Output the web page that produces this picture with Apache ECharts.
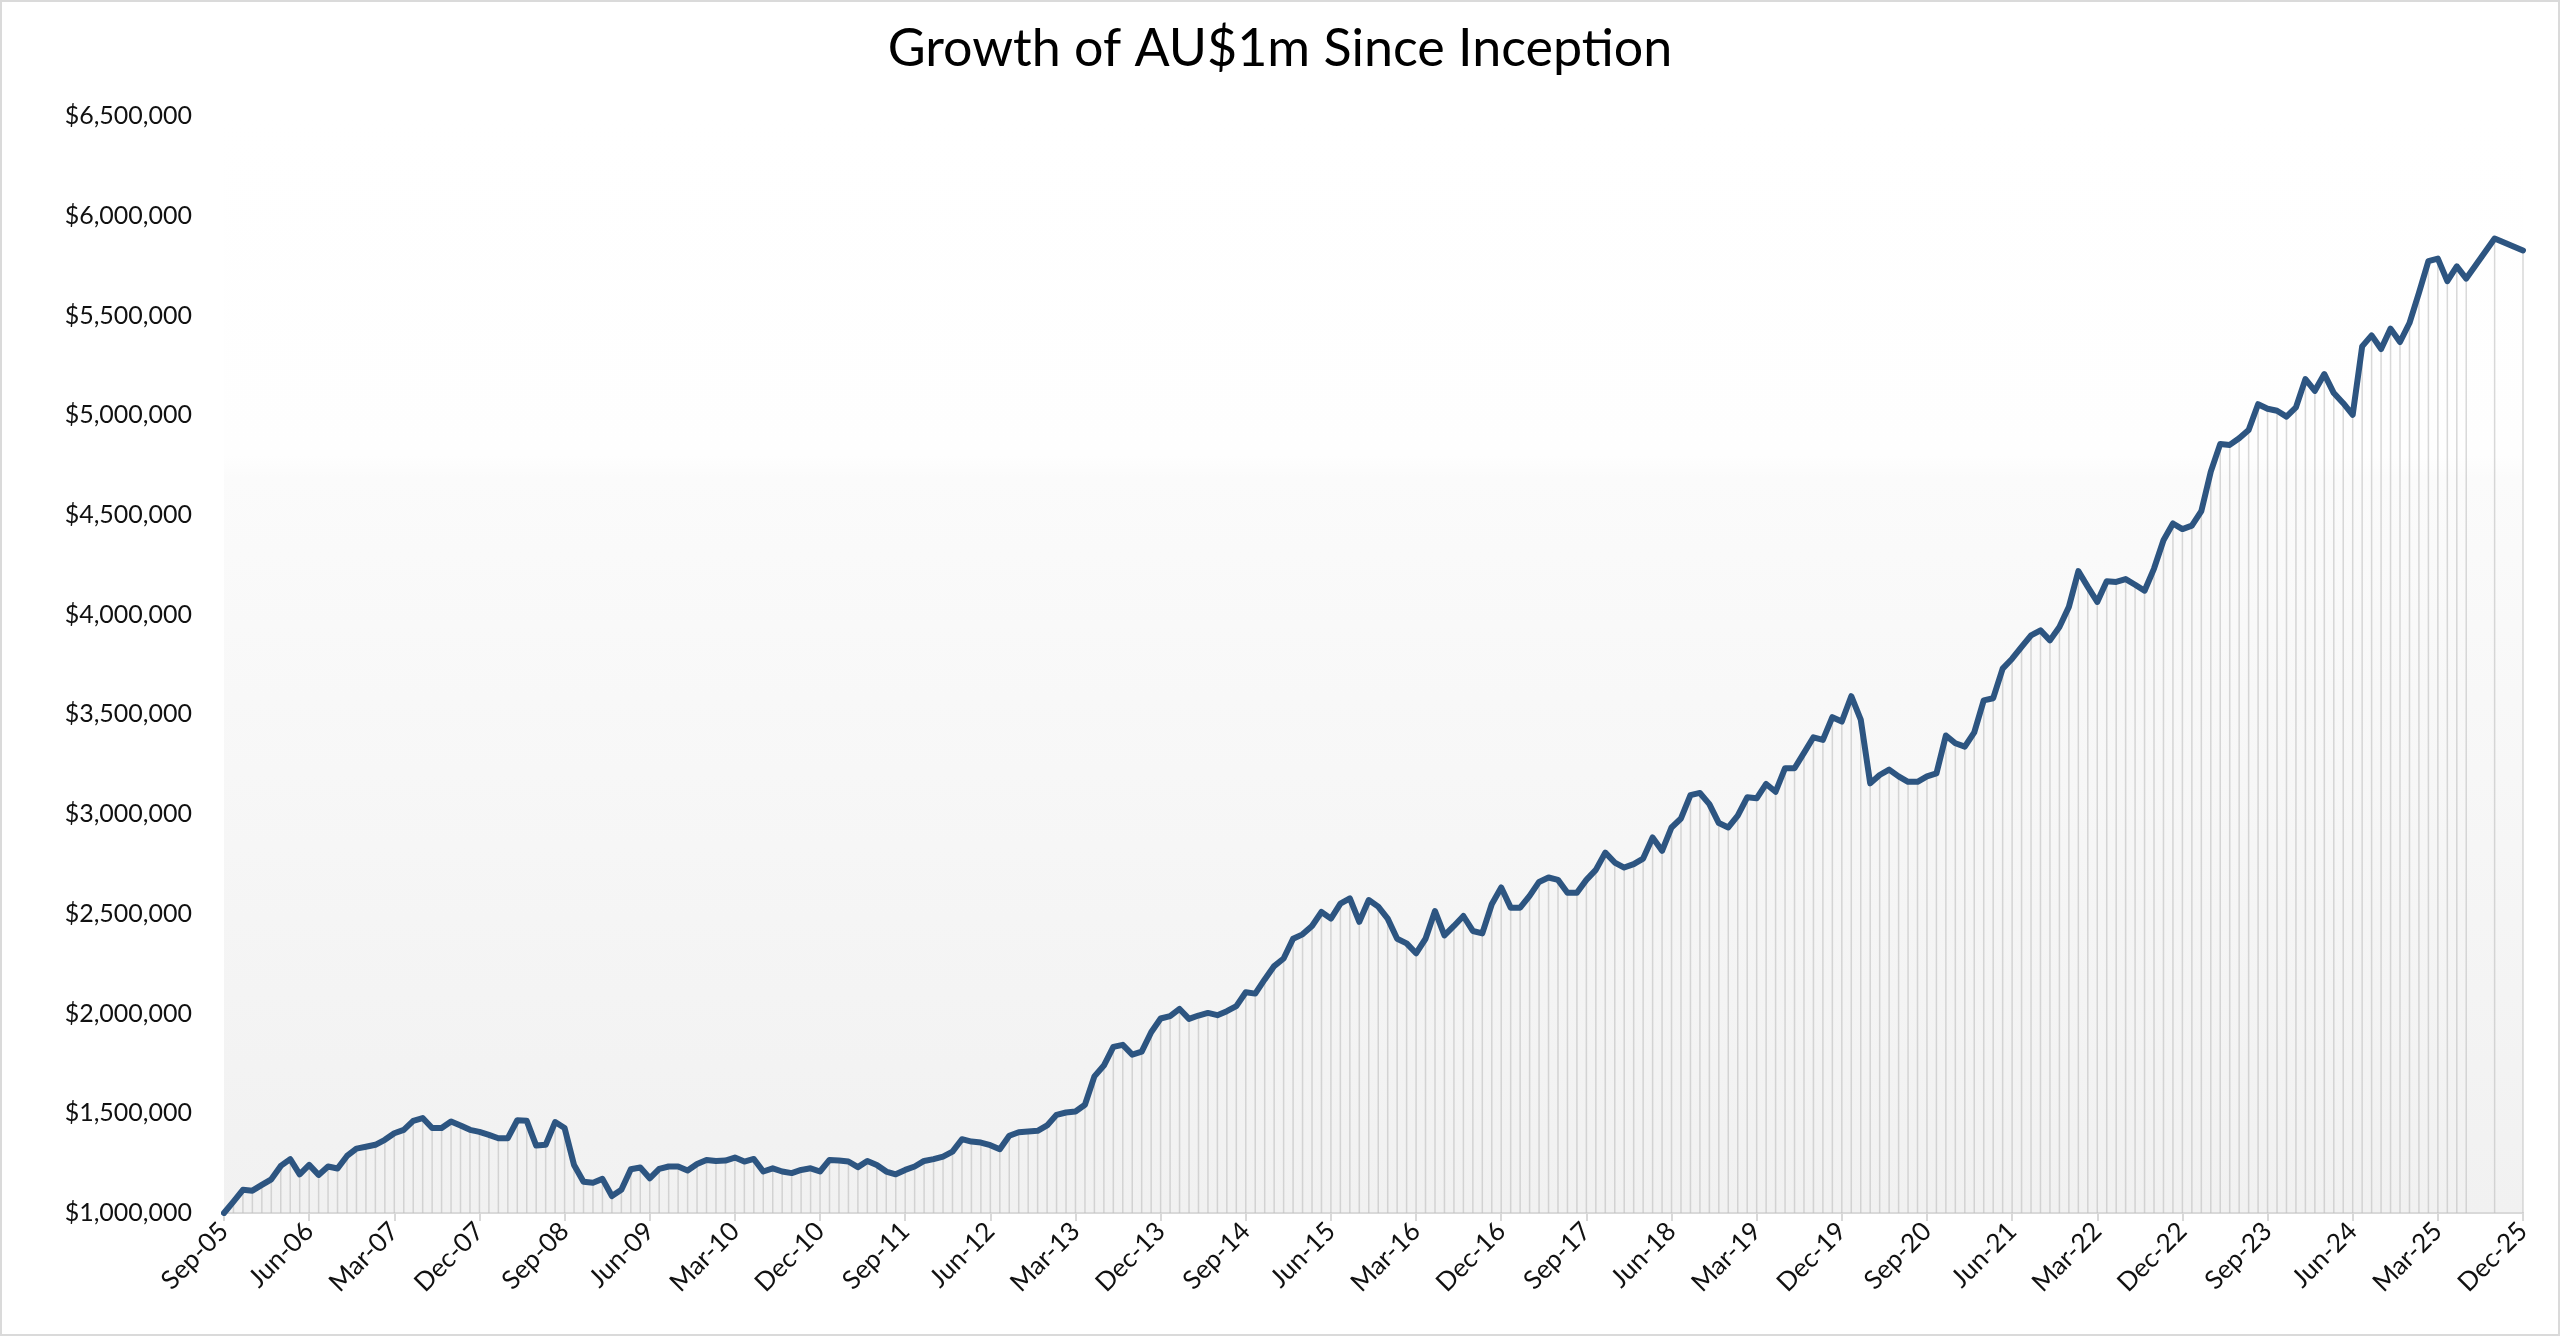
<!DOCTYPE html>
<html>
<head>
<meta charset="utf-8">
<script src="https://cdn.jsdelivr.net/npm/echarts@6/dist/echarts.min.js"></script>
<style>
  html, body { margin: 0; padding: 0; background: #ffffff; }
  #chart { width: 2560px; height: 1336px; }
</style>
</head>
<body>
<div id="chart"></div>
<script>
// ---- Data ----
const titleText = 'Growth of AU$1m Since Inception';
const monthNames = ['Jan','Feb','Mar','Apr','May','Jun','Jul','Aug','Sep','Oct','Nov','Dec'];
const startYear = 2005, startMonth = 8, monthCount = 244; // Sep-05 .. Dec-25
const categories = [];
for (let k = 0; k < monthCount; k++) {
  const m = (startMonth + k) % 12;
  const y = startYear + Math.floor((startMonth + k) / 12);
  categories.push(monthNames[m] + '-' + String(y % 100).padStart(2, '0'));
}
// Portfolio value (AU$), one entry per month; null = no observation
const values2005_2008 = [
  1000000,1057000,1116000,1112000,1141000,1169000,1236000,1270000,1194000,1241000,1191000,1233000,
  1223000,1286000,1323000,1332000,1342000,1367000,1400000,1417000,1462000,1476000,1426000,1426000,
  1459000,1439000,1417000,1407000,1392000,1375000,1375000,1465000,1462000,1338000,1342000,1456000
];
const values2008_2011 = [
  1426000,1241000,1157000,1152000,1171000,1085000,1116000,1219000,1228000,1174000,1221000,1233000,
  1233000,1213000,1246000,1266000,1261000,1263000,1278000,1258000,1271000,1208000,1224000,1208000,
  1200000,1216000,1224000,1208000,1266000,1263000,1258000,1230000,1261000,1241000,1208000,1194000
];
const values2011_2014 = [
  1216000,1233000,1261000,1270000,1283000,1308000,1370000,1358000,1353000,1340000,1320000,1387000,
  1405000,1409000,1412000,1439000,1492000,1504000,1509000,1543000,1685000,1739000,1833000,1843000,
  1794000,1809000,1906000,1975000,1987000,2023000,1973000,1990000,2003000,1992000,2012000,2037000
];
const values2014_2017 = [
  2107000,2100000,2171000,2238000,2276000,2375000,2397000,2439000,2509000,2476000,2551000,2577000,
  2460000,2569000,2536000,2476000,2375000,2352000,2302000,2375000,2514000,2392000,2439000,2489000,
  2414000,2402000,2548000,2632000,2531000,2531000,2590000,2660000,2682000,2670000,2606000,2606000
];
const values2017_2020 = [
  2670000,2720000,2807000,2757000,2732000,2749000,2777000,2883000,2816000,2933000,2978000,3095000,
  3106000,3050000,2955000,2933000,2992000,3084000,3079000,3151000,3112000,3230000,3230000,3307000,
  3385000,3372000,3486000,3464000,3591000,3474000,3154000,3196000,3223000,3189000,3162000,3162000
];
const values2020_2023 = [
  3189000,3204000,3394000,3355000,3338000,3410000,3570000,3581000,3729000,3779000,3838000,3896000,
  3921000,3871000,3938000,4039000,4218000,4139000,4064000,4167000,4164000,4178000,4150000,4120000,
  4231000,4373000,4457000,4429000,4446000,4519000,4717000,4856000,4851000,4884000,4926000,5055000
];
const values2023_2025 = [
  5032000,5022000,4993000,5039000,5181000,5122000,5206000,5111000,5060000,5002000,5345000,5400000,
  5332000,5434000,5367000,5462000,5613000,5772000,5785000,5672000,5746000,5685000,null,null,
  5886000,null,null,5826000
];
const values = [].concat(values2005_2008, values2008_2011, values2011_2014,
  values2014_2017, values2017_2020, values2020_2023, values2023_2025);

const yMin = 1000000, yMax = 6500000, yStep = 500000;

// ---- Chart ----
const chart = echarts.init(document.getElementById('chart'), null, { renderer: 'canvas' });
const FONT = 'Lato, "Open Sans", sans-serif';

chart.setOption({
  backgroundColor: '#ffffff',
  animation: false,
  title: {
    text: titleText,
    left: 'center',
    top: 18,
    textStyle: { fontFamily: FONT, fontSize: 52, fontWeight: 'normal', color: '#000000' }
  },
  graphic: [{
    type: 'rect',
    silent: true,
    shape: { x: 1, y: 1, width: 2558, height: 1334 },
    style: { fill: 'none', stroke: '#dadada', lineWidth: 2 }
  }],
  grid: {
    left: 224, right: 37, top: 116, bottom: 123,
    show: true,
    borderWidth: 0,
    backgroundColor: {
      type: 'linear', x: 0, y: 0, x2: 0, y2: 1,
      colorStops: [
        { offset: 0, color: '#ffffff' },
        { offset: 0.31, color: '#fefefe' },
        { offset: 0.33, color: '#fbfbfb' },
        { offset: 1, color: '#f1f1f1' }
      ]
    }
  },
  xAxis: {
    type: 'category',
    data: categories,
    boundaryGap: false,
    axisLine: { show: true, lineStyle: { color: '#d9d9d9', width: 2 } },
    axisTick: { show: true, interval: 8, length: 8, lineStyle: { color: '#d9d9d9', width: 2 } },
    axisLabel: {
      interval: 8,
      rotate: 45,
      margin: 14,
      fontFamily: FONT,
      fontSize: 26,
      color: '#111111'
    },
    splitLine: { show: false }
  },
  yAxis: {
    type: 'value',
    min: yMin, max: yMax, interval: yStep,
    axisLine: { show: false },
    axisTick: { show: false },
    splitLine: { show: false },
    axisLabel: {
      margin: 32,
      fontFamily: FONT,
      fontSize: 25,
      color: '#111111',
      formatter: v => '$' + v.toLocaleString('en-US')
    }
  },
  series: [
    {
      type: 'bar',
      data: values,
      barWidth: 1.5,
      clip: true,
      silent: true,
      itemStyle: { color: 'rgba(190,190,190,0.6)' },
      z: 1
    },
    {
      type: 'line',
      data: values,
      connectNulls: true,
      symbol: 'none',
      lineStyle: { color: '#2d5581', width: 6, join: 'round', cap: 'round' },
      z: 3
    }
  ]
});
</script>
</body>
</html>
